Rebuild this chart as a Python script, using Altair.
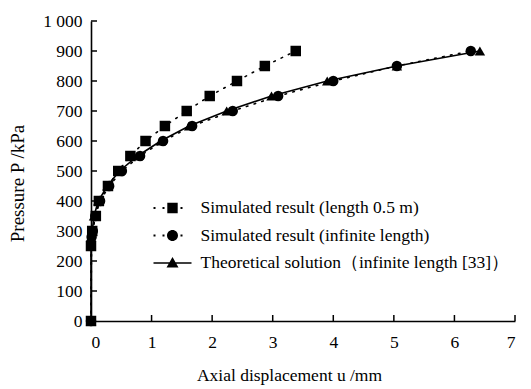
import altair as alt
import pandas as pd

series = [
    "Simulated result (length 0.5 m)",
    "Simulated result (infinite length)",
    "Theoretical solution（infinite length [33]）",
]

u_sq = [0.0, 0.0, 0.02, 0.08, 0.13, 0.28, 0.45, 0.65, 0.90, 1.22, 1.58, 1.96, 2.41, 2.87, 3.38]
p_sq = [0, 250, 300, 350, 400, 450, 500, 550, 600, 650, 700, 750, 800, 850, 900]

u_ci = [0.0, 0.01, 0.03, 0.07, 0.15, 0.30, 0.51, 0.81, 1.19, 1.67, 2.34, 3.09, 4.00, 5.05, 6.27]
p_ci = [0, 280, 300, 350, 400, 450, 500, 550, 600, 650, 700, 750, 800, 850, 900]

u_tr = [0.0, 0.0, 0.02, 0.05, 0.12, 0.27, 0.47, 0.77, 1.15, 1.62, 2.24, 2.98, 3.90, 5.05, 6.42]
p_tr = [0, 280, 300, 350, 400, 450, 500, 550, 600, 650, 700, 750, 800, 850, 900]

x_labels = [0, 1, 2, 3, 4, 5, 6, 7]
y_labels = [0, 100, 200, 300, 400, 500, 600, 700, 800, 900, 1000]
x_ticks = [1, 2, 3, 4, 5, 6, 7]
y_ticks = [100, 200, 300, 400, 500, 600, 700, 800, 900, 1000]

rows = []
for name, us, ps in zip(series, [u_sq, u_ci, u_tr], [p_sq, p_ci, p_tr]):
    for i, (u, p) in enumerate(zip(us, ps)):
        rows.append({"series": name, "u": u, "p": p, "i": i})
df = pd.DataFrame(rows)

FONT = "Liberation Serif"
FS = 17.5
W, H = 424, 300

xs = alt.Scale(domain=[0, 7], nice=False)
ys = alt.Scale(domain=[0, 1000], nice=False)

x_axis = alt.Axis(
    values=x_labels, format="d", ticks=False, grid=False, labelPadding=12,
    labelOverlap=False, labelFont=FONT, labelFontSize=FS, labelColor="black",
    title="Axial displacement u /mm", titlePadding=16, titleX=198,
    titleFont=FONT, titleFontSize=FS, titleColor="black", titleFontWeight="normal",
    domainColor="black", domainWidth=1.6,
)
y_axis = alt.Axis(
    values=y_labels, ticks=False, grid=False, labelPadding=9,
    labelOverlap=False, labelFont=FONT, labelFontSize=FS, labelColor="black",
    labelExpr="replace(format(datum.value, ','), ',', ' ')",
    title="Pressure P /kPa", titleX=-74, titleY=162, titleBaseline="middle",
    titleFont=FONT, titleFontSize=19, titleColor="black", titleFontWeight="normal",
    domainColor="black", domainWidth=1.6,
)
x_enc = alt.X("u:Q", scale=xs, axis=x_axis)
y_enc = alt.Y("p:Q", scale=ys, axis=y_axis)

base = alt.Chart(df)

line_sq = base.transform_filter(alt.datum.series == series[0]).mark_line(
    color="black", strokeWidth=1.6, strokeDash=[1.6, 6.5], strokeCap="round"
).encode(x=x_enc, y=y_enc, order="i:Q")
line_ci = base.transform_filter(alt.datum.series == series[1]).mark_line(
    color="black", strokeWidth=1.6, strokeDash=[1.6, 6.5], strokeCap="round"
).encode(x=x_enc, y=y_enc, order="i:Q")
line_tr = base.transform_filter(alt.datum.series == series[2]).mark_line(
    color="black", strokeWidth=1.6
).encode(x=x_enc, y=y_enc, order="i:Q")

pts = base.mark_point(filled=True, color="black", opacity=1, size=110).encode(
    x=x_enc, y=y_enc,
    shape=alt.Shape("series:N", scale=alt.Scale(domain=series, range=["square", "circle", "triangle-up"]), legend=None),
)

# legend symbols: line + marker paths (unit scaled)
dots3 = "".join(
    f"M{c - 0.1:.2f},-0.1h0.2v0.2h-0.2z" for c in [-1.8, -0.9, 0.9]
)
sq_path = dots3 + "M-0.52,-0.52h1.04v1.04h-1.04z"
ci_path = dots3 + "M-0.55,0a0.55,0.55 0 1,0 1.1,0a0.55,0.55 0 1,0 -1.1,0z"
tr_path = "M-1.9,-0.08h3.8v0.16h-3.8zM0,-0.6L0.6,0.45L-0.6,0.45Z"

leg = base.mark_point(filled=True, color="black", opacity=0).encode(
    x=x_enc, y=y_enc,
    shape=alt.Shape(
        "series:N",
        scale=alt.Scale(domain=series, range=[sq_path, ci_path, tr_path]),
        legend=alt.Legend(
            title=None, orient="none", legendX=71.5, legendY=177,
            symbolSize=400, symbolOpacity=1, symbolFillColor="black",
            symbolStrokeColor="black", symbolStrokeWidth=0,
            labelFont=FONT, labelFontSize=FS, labelColor="black",
            labelOffset=18, rowPadding=8.5, padding=0, labelLimit=400,
        ),
    ),
)

xt = alt.Chart(pd.DataFrame({"xt": x_ticks})).mark_rule(color="black", strokeWidth=1.5).encode(
    x=alt.X("xt:Q", scale=xs, axis=x_axis), y=alt.value(H), y2=alt.value(H - 6)
)
yt = alt.Chart(pd.DataFrame({"yt": y_ticks})).mark_rule(color="black", strokeWidth=1.5).encode(
    y=alt.Y("yt:Q", scale=ys, axis=y_axis), x=alt.value(0), x2=alt.value(6)
)

chart = alt.layer(line_sq, line_ci, line_tr, pts, leg, xt, yt).resolve_scale(
    shape="independent"
).properties(
    width=W, height=H,
    autosize=alt.AutoSizeParams(type="none"),
    padding={"left": 91, "top": 21, "right": 16, "bottom": 68},
    background="white",
).configure_view(stroke=None)

chart.save("out.html", embed_options={"renderer": "svg", "actions": False})
